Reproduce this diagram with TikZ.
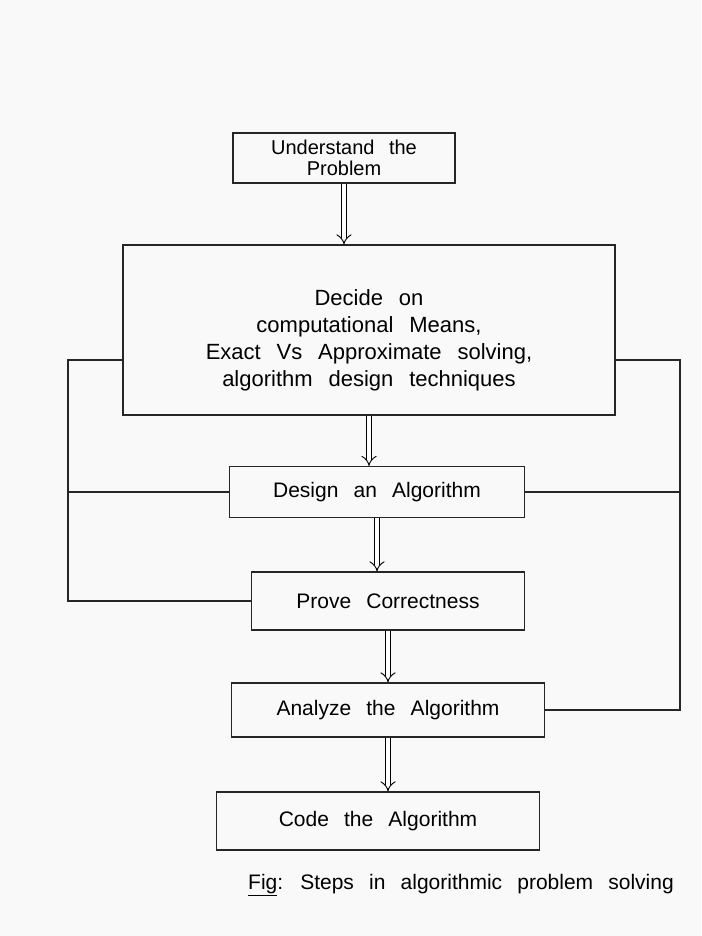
\documentclass[tikz,border=0pt]{standalone}
\usepackage{fontspec}
\setmainfont[WordSpace=2.6]{Liberation Sans}
\usetikzlibrary{arrows.meta, positioning, calc}

\begin{document}
\begin{tikzpicture}[
  x=1pt, y=-1pt,
  stepbox/.style={rectangle, draw=black!85, line width=1.1pt, inner sep=0pt,
    align=center, font=\fontsize{21}{26}\selectfont},
  flow/.style={double, double distance=4.5pt, line width=0.9pt, -{Implies[scale=1.3]}},
  loopline/.style={draw=black!85, line width=1.1pt}
]
  \fill[gray!5] (0,0) rectangle (701,936);
  \useasboundingbox (0,0) rectangle (701,936);

  \node[stepbox, minimum width=222pt, minimum height=50pt,
    font=\fontsize{20}{21}\selectfont] (understand)
    at (344,158) {Understand the\\Problem};
  \node[stepbox, minimum width=492pt, minimum height=170pt,
    font=\fontsize{22}{27}\selectfont] (decide)
    at (369,330) {\rule{0pt}{36pt}Decide on\\computational Means,\\Exact Vs Approximate solving,\\algorithm design techniques};
  \node[stepbox, minimum width=295pt, minimum height=51pt] (design)
    at (377,492) {Design an Algorithm};
  \node[stepbox, minimum width=273pt, minimum height=58pt] (prove)
    at (388,601) {Prove Correctness};
  \node[stepbox, minimum width=313pt, minimum height=54pt] (analyze)
    at (388,710) {Analyze the Algorithm};
  \node[stepbox, minimum width=323pt, minimum height=58pt] (code)
    at (378,821) {Code the Algorithm};

  \coordinate (lft) at (68,360);
  \coordinate (rgt) at (680,360);

  \draw[flow] (understand.south) -- (understand.south |- decide.north);
  \draw[flow] (decide.south) -- (decide.south |- design.north);
  \draw[flow] (design.south) -- (design.south |- prove.north);
  \draw[flow] (prove.south) -- (prove.south |- analyze.north);
  \draw[flow] (analyze.south) -- (analyze.south |- code.north);

  % feedback lines
  \draw[loopline] (prove.west) -| (lft) -- ([yshift=-30pt]decide.west);
  \draw[loopline] (design.west) -- (design.west -| lft);
  \draw[loopline] (analyze.east) -| (rgt) -- ([yshift=-30pt]decide.east);
  \draw[loopline] (design.east) -- (design.east -| rgt);

  \node[font=\fontsize{21}{24}\selectfont] (caption) at (461,885)
    {\underline{Fig}: Steps in algorithmic problem solving};
\end{tikzpicture}
\end{document}
